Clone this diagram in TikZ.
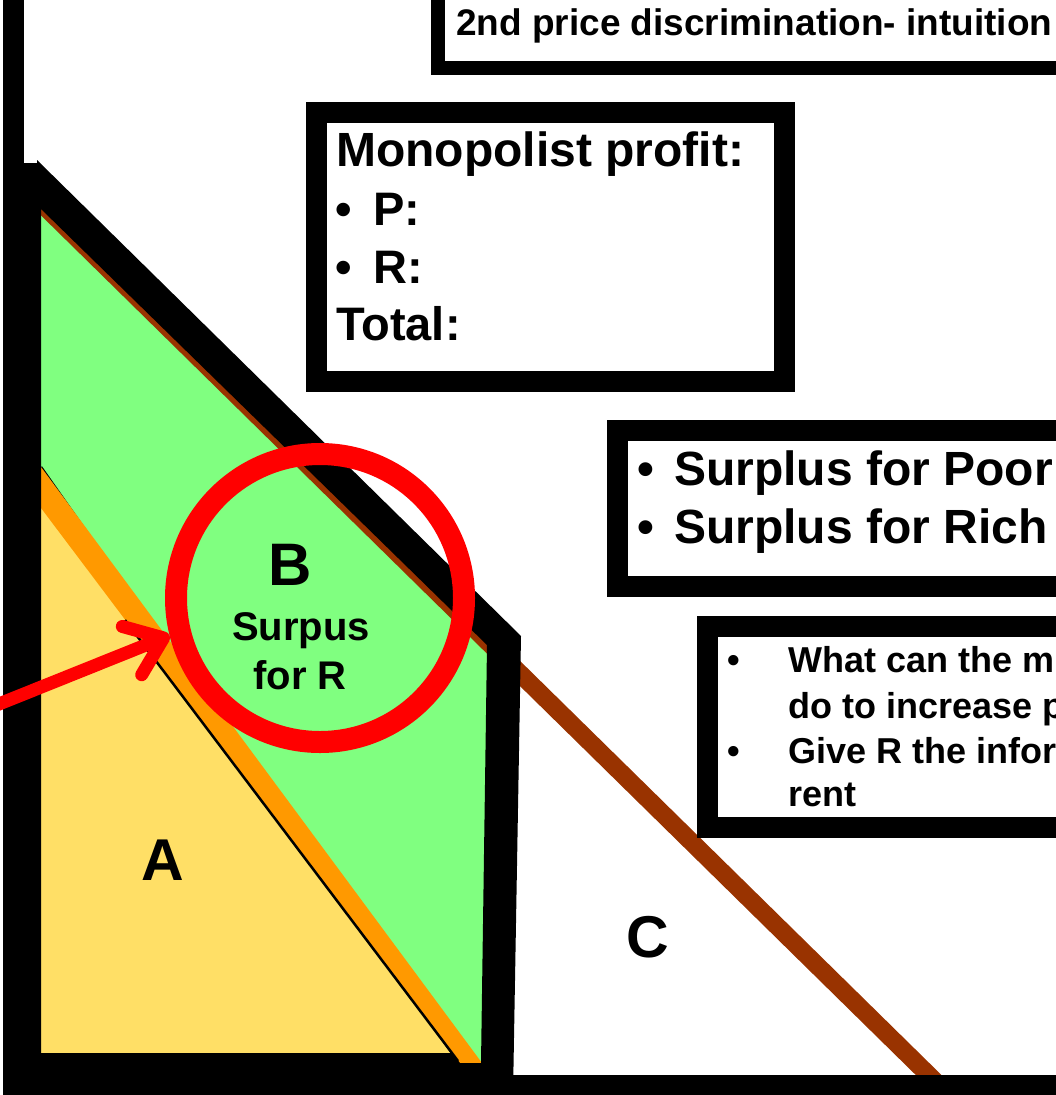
\documentclass[tikz,border=0pt]{standalone}
\usepackage{fontspec}
\setmainfont{Liberation Sans}
\usetikzlibrary{arrows.meta}
\definecolor{bgreen}{HTML}{80FF80}
\definecolor{byellow}{HTML}{FFDF66}
\definecolor{borange}{HTML}{FF9900}
\definecolor{bbrown}{HTML}{993300}
\definecolor{bred}{HTML}{FF0000}
\tikzset{
  box/.style={draw=black, line width=21pt, fill=white, inner sep=0pt, outer sep=0pt, anchor=north west},
  txt/.style={anchor=base west, inner sep=0pt, font=\bfseries},
  lbl/.style={anchor=base, inner sep=0pt, font=\bfseries},
}
\newcommand{\fs}[1]{\fontsize{#1}{#1}\selectfont}
\begin{document}
\begin{tikzpicture}[x=1pt,y=-1pt]
\useasboundingbox (0,0) rectangle (1056,1095);
\clip (0,0) rectangle (1056,1095);
% regions
\fill[bgreen] (41,200) -- (492,640) -- (485,1063) -- (41,1063) -- cycle;
\fill[byellow] (41,467) -- (452,1053) -- (41,1053) -- cycle;
\draw[line width=2.5pt] (41,467) -- (452,1053);
\fill[borange] (41,467) -- (482,1063) -- (459,1063) -- (41,508) -- cycle;
\draw[line width=2.5pt] (125,620) -- (458,1061);
% demand line of R
\draw[bbrown, line width=18pt] (30,192) -- (950,1096);
% thick black frame
\fill[black, even odd rule] (3,163) -- (37,163) -- (37,160) -- (521,636) -- (513,1095) -- (3,1095) -- cycle
  (41,209) -- (487,645) -- (481,1063) -- (460,1063) -- (452,1053) -- (41,1053) -- cycle;
% axes
\draw[line width=21pt] (13.5,-5) -- (13.5,1100);
\draw[line width=20pt] (3,1085) -- (1065,1085);
% boxes
\node[box, line width=14pt, minimum width=660pt, minimum height=110pt] (tbox) at (437.5,-42.5) {};
\node[box, minimum width=468pt, minimum height=269pt] (mbox) at (316,112) {};
\node[box, minimum width=470pt, minimum height=156pt] (sbox) at (617.5,430) {};
\node[box, minimum width=380pt, minimum height=201pt] (qbox) at (707.5,626.5) {};
% title
\node[txt, font=\bfseries\fs{37}] (title) at (456,35) {2nd price discrimination- intuition};
% monopolist profit
\node[txt, font=\bfseries\fs{48}] (m1) at (336,166) {Monopolist profit:};
\node[txt, font=\bfseries\fs{47}] (m2b) at (335,225) {•};
\node[txt, font=\bfseries\fs{47}] (m2) at (373,225) {P:};
\node[txt, font=\bfseries\fs{47}] (m3b) at (335,283) {•};
\node[txt, font=\bfseries\fs{47}] (m3) at (373,283) {R:};
\node[txt, font=\bfseries\fs{47}] (m4) at (336,340) {Total:};
% surplus
\node[txt, font=\bfseries\fs{48}] (s1b) at (637,485) {•};
\node[txt, font=\bfseries\fs{48}] (s1) at (674,485) {Surplus for Poor};
\node[txt, font=\bfseries\fs{48}] (s2b) at (637,543) {•};
\node[txt, font=\bfseries\fs{48}] (s2) at (674,543) {Surplus for Rich};
% question
\node[txt, font=\bfseries\fs{36}] (q1b) at (727,672) {•};
\node[txt, font=\bfseries\fs{36}] (q1) at (788,672) {What can the m};
\node[txt, font=\bfseries\fs{36}] (q2) at (788,718) {do to increase p};
\node[txt, font=\bfseries\fs{36}] (q3b) at (727,763) {•};
\node[txt, font=\bfseries\fs{36}] (q3) at (788,763) {Give R the infor};
\node[txt, font=\bfseries\fs{36}] (q4) at (788,806) {rent};
% region labels
\node[lbl, font=\bfseries\fs{59}] (A) at (163,880) {A};
\node[lbl, font=\bfseries\fs{59}] (C) at (648,957) {C};
\node[lbl, font=\bfseries\fs{60}] (B) at (290,585) {B};
\node[lbl, font=\bfseries\fs{40}] (sur) at (301,640) {Surpus};
\node[lbl, font=\bfseries\fs{40}] (forR) at (300,689) {for R};
% ring and arrow
\node[circle, draw=bred, line width=22pt, minimum size=288pt, inner sep=0pt] (ring) at (320,598) {};
\coordinate (astart) at (-6,706);
\draw[bred, line width=13pt, line cap=round, -{Straight Barb[length=34pt,width=52pt,round]}] (astart) -- (ring.194);
\end{tikzpicture}
\end{document}
